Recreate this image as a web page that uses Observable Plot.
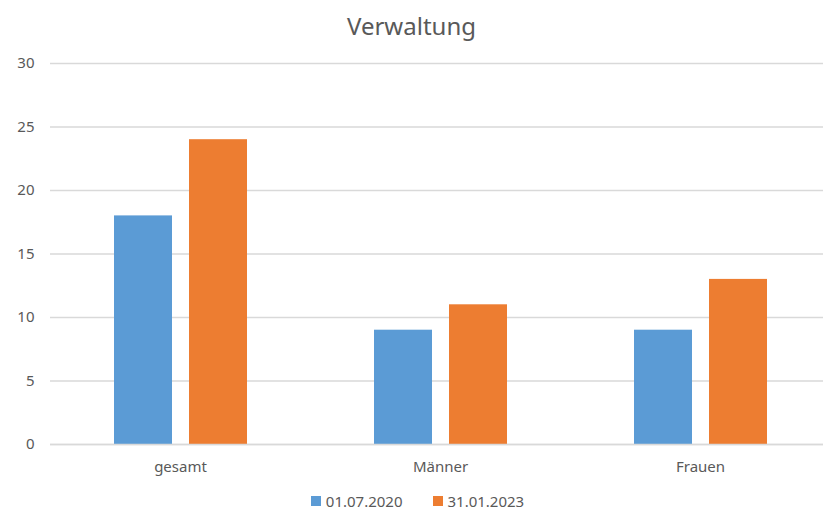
<!DOCTYPE html>
<html>
<head>
<meta charset="utf-8">
<script src="https://cdn.jsdelivr.net/npm/d3@7"></script>
<script src="https://cdn.jsdelivr.net/npm/@observablehq/plot@0.6"></script>
<style>
  html, body { margin: 0; padding: 0; background: #fff; }
  body { width: 823px; height: 511px; overflow: hidden; font-family: "Noto Sans", "Open Sans", sans-serif; color: #595959; }
  #title { height: 50px; line-height: 52px; text-align: center; font-size: 24px; color: #595959; }
  #legend { display: flex; justify-content: center; align-items: center; gap: 30px; font-size: 15px; line-height: 18px; margin-top: 7px; padding-left: 12px; }
  .item { display: flex; align-items: center; gap: 5px; }
  .swatch { width: 10px; height: 10px; display: inline-block; }
</style>
</head>
<body>
<div id="title">Verwaltung</div>
<div id="chart"></div>
<div id="legend"></div>
<script>
// Staff counts in administration, by group, at two reference dates
const categories = ["gesamt", "Männer", "Frauen"];
const series = ["01.07.2020", "31.01.2023"];
const values2020 = [18, 9, 9];
const values2023 = [24, 11, 13];
const yTicks = [0, 5, 10, 15, 20, 25, 30];
const colors = ["#5b9bd5", "#ed7d31"];

const rows = (vals) => categories.map((c, i) => ({category: c, value: vals[i]}));
const data2020 = rows(values2020);
const data2023 = rows(values2023);

const chart = Plot.plot({
  width: 823,
  height: 435,
  marginTop: 13,
  marginBottom: 41,
  marginLeft: 50,
  marginRight: 0,
  style: {fontFamily: "'Noto Sans', 'Open Sans', sans-serif", fontSize: "15px", color: "#595959", background: "#fff"},
  x: {domain: categories, range: [50, 830], padding: 0, label: null, tickSize: 0, tickPadding: 17},
  y: {domain: [0, 30], ticks: yTicks, label: null, tickSize: 0, tickPadding: 16},
  marks: [
    Plot.ruleY(yTicks, {stroke: "#d9d9d9", strokeWidth: 1.3}),
    Plot.barY(data2020, {x: "category", y: "value", fill: colors[0], insetLeft: 64, insetRight: 138}),
    Plot.barY(data2023, {x: "category", y: "value", fill: colors[1], insetLeft: 139, insetRight: 63}),
    Plot.ruleY([0], {stroke: "#d9d9d9", strokeWidth: 1.3})
  ]
});
document.getElementById("chart").append(chart);

const legend = document.getElementById("legend");
series.forEach((s, i) => {
  const item = document.createElement("div");
  item.className = "item";
  const sw = document.createElement("span");
  sw.className = "swatch";
  sw.style.background = colors[i];
  const label = document.createElement("span");
  label.textContent = s;
  item.append(sw, label);
  legend.append(item);
});
</script>
</body>
</html>
